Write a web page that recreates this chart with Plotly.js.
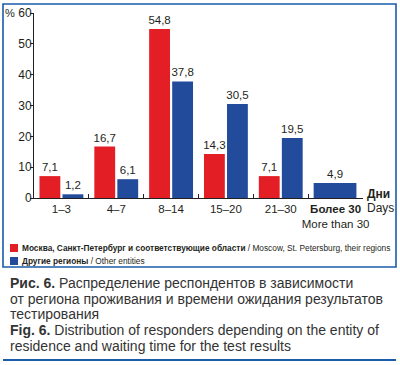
<!DOCTYPE html>
<html><head><meta charset="utf-8">
<script src="https://cdn.plot.ly/plotly-3.0.1.min.js"></script>
<style>html,body{margin:0;padding:0;background:#fff}#chart{width:400px;height:365px}</style>
</head><body><div id="chart"></div>
<script>
// ---- data ----
const categories = ['1–3', '4–7', '8–14', '15–20', '21–30', 'Более 30'];
const tickLabels = ['1–3', '4–7', '8–14', '15–20', '21–30', '<b>Более 30</b><br>More than 30'];
const moscow = [7.1, 16.7, 54.8, 14.3, 7.1, null];
const other  = [1.2, 6.1, 37.8, 30.5, 19.5, 4.9];
const seriesNames = [
  '<b>Москва, Санкт-Петербург и соответствующие области</b> / Moscow, St. Petersburg, their regions',
  '<b>Другие регионы</b> / Other entities'
];
const yTicks = [0, 10, 20, 30, 40, 50, 60];
const captionRu = ['<b>Рис. 6.</b> Распределение респондентов в зависимости',
                   'от региона проживания и времени ожидания результатов',
                   'тестирования'];
const captionEn = ['<b>Fig. 6.</b> Distribution of responders depending on the entity of',
                   'residence and waiting time for the test results'];

// ---- styles ----
const RED = '#e31e25', BLUE = '#234b9b', FRAME = '#1a5ca8', INK = '#231f20';
const NARROW = '"Liberation Sans Narrow", "Arial Narrow", "Liberation Sans", Arial, sans-serif';
const SANS = '"Liberation Sans", Arial, sans-serif';
const L = 34, T = 13, W = 329, H = 185, FW = 400, FH = 365;
const px = x => (x - L) / W;
const py = y => (T + H - y) / H;
const fmt = v => v == null ? '' : v.toFixed(1).replace('.', ',');

const redTrace = {
  type: 'bar', x: categories, y: moscow, marker: {color: RED},
  offset: -0.4, width: 0.38,
  text: moscow.map(fmt), textposition: 'outside', constraintext: 'none', cliponaxis: false,
  textfont: {family: NARROW, size: 11.5, color: INK}, hoverinfo: 'skip', showlegend: false
};
const blueTrace = {
  type: 'bar', x: categories, y: other, marker: {color: BLUE},
  offset: other.map((v, i) => moscow[i] == null ? -0.4 : 0.02),
  width: other.map((v, i) => moscow[i] == null ? 0.78 : 0.38),
  text: other.map(fmt), textposition: 'outside', constraintext: 'none', cliponaxis: false,
  textfont: {family: NARROW, size: 11.5, color: INK}, hoverinfo: 'skip', showlegend: false
};

const ann = [];
const addText = (x, y, text, size, family, color, anchor) => ann.push({
  xref: 'paper', yref: 'paper', x: px(x), y: py(y), text: text, showarrow: false,
  xanchor: anchor || 'left', yanchor: 'middle', font: {family: family, size: size, color: color || INK}
});
addText(3, 13, '%', 11, NARROW);
addText(365, 194, '<b>Дни</b>', 12, NARROW);
addText(365, 208, 'Days', 12, NARROW);
addText(20, 248, seriesNames[0], 8.3, NARROW);
addText(20, 261, seriesNames[1], 8.3, NARROW);
captionRu.forEach((t, i) => addText(8, 283 + i * 15.5, t, 14, SANS, '#333'));
captionEn.forEach((t, i) => addText(8, 330 + i * 15.5, t, 14, SANS, '#333'));

const rect = (x0, y0, x1, y1, color, line) => ({
  type: 'rect', xref: 'paper', yref: 'paper', x0: px(x0), y0: py(y0), x1: px(x1), y1: py(y1),
  fillcolor: line ? 'rgba(0,0,0,0)' : color, line: line ? {color: color, width: line} : {width: 0}
});
const shapes = [
  rect(3, 4, 396, 267, FRAME, 1.6),
  rect(10, 244, 18, 252, RED),
  rect(10, 257, 18, 265, BLUE),
  {type: 'line', xref: 'paper', yref: 'paper', x0: px(3), x1: px(396), y0: py(360), y1: py(360),
   line: {color: FRAME, width: 2}}
];

const layout = {
  width: FW, height: FH, margin: {l: L, r: FW - L - W, t: T, b: FH - T - H},
  paper_bgcolor: '#fff', plot_bgcolor: '#fff', barmode: 'overlay', showlegend: false,
  xaxis: {
    type: 'category', range: [-0.5, 5.5], tickson: 'boundaries', ticks: 'inside', ticklen: 4,
    tickcolor: INK, tickwidth: 1, showline: true, linecolor: INK, linewidth: 1, tickangle: 0,
    showgrid: false, zeroline: false, tickvals: categories, ticktext: tickLabels,
    tickfont: {family: NARROW, size: 11.5, color: INK}, fixedrange: true
  },
  yaxis: {
    range: [0, 60], tickvals: yTicks, ticks: 'outside', ticklen: 3, tickcolor: INK,
    showline: true, linecolor: INK, linewidth: 1, showgrid: false, zeroline: false,
    tickfont: {family: NARROW, size: 12, color: INK}, ticklabelstandoff: -4, fixedrange: true
  },
  yaxis2: {
    overlaying: 'y', side: 'left', range: [0, 60], tickvals: yTicks, ticks: 'inside', ticklen: 3,
    tickcolor: INK, showticklabels: false, showline: false, showgrid: false, zeroline: false
  },
  annotations: ann, shapes: shapes
};

Plotly.newPlot('chart', [redTrace, blueTrace], layout, {displayModeBar: false, staticPlot: true});
</script></body></html>
